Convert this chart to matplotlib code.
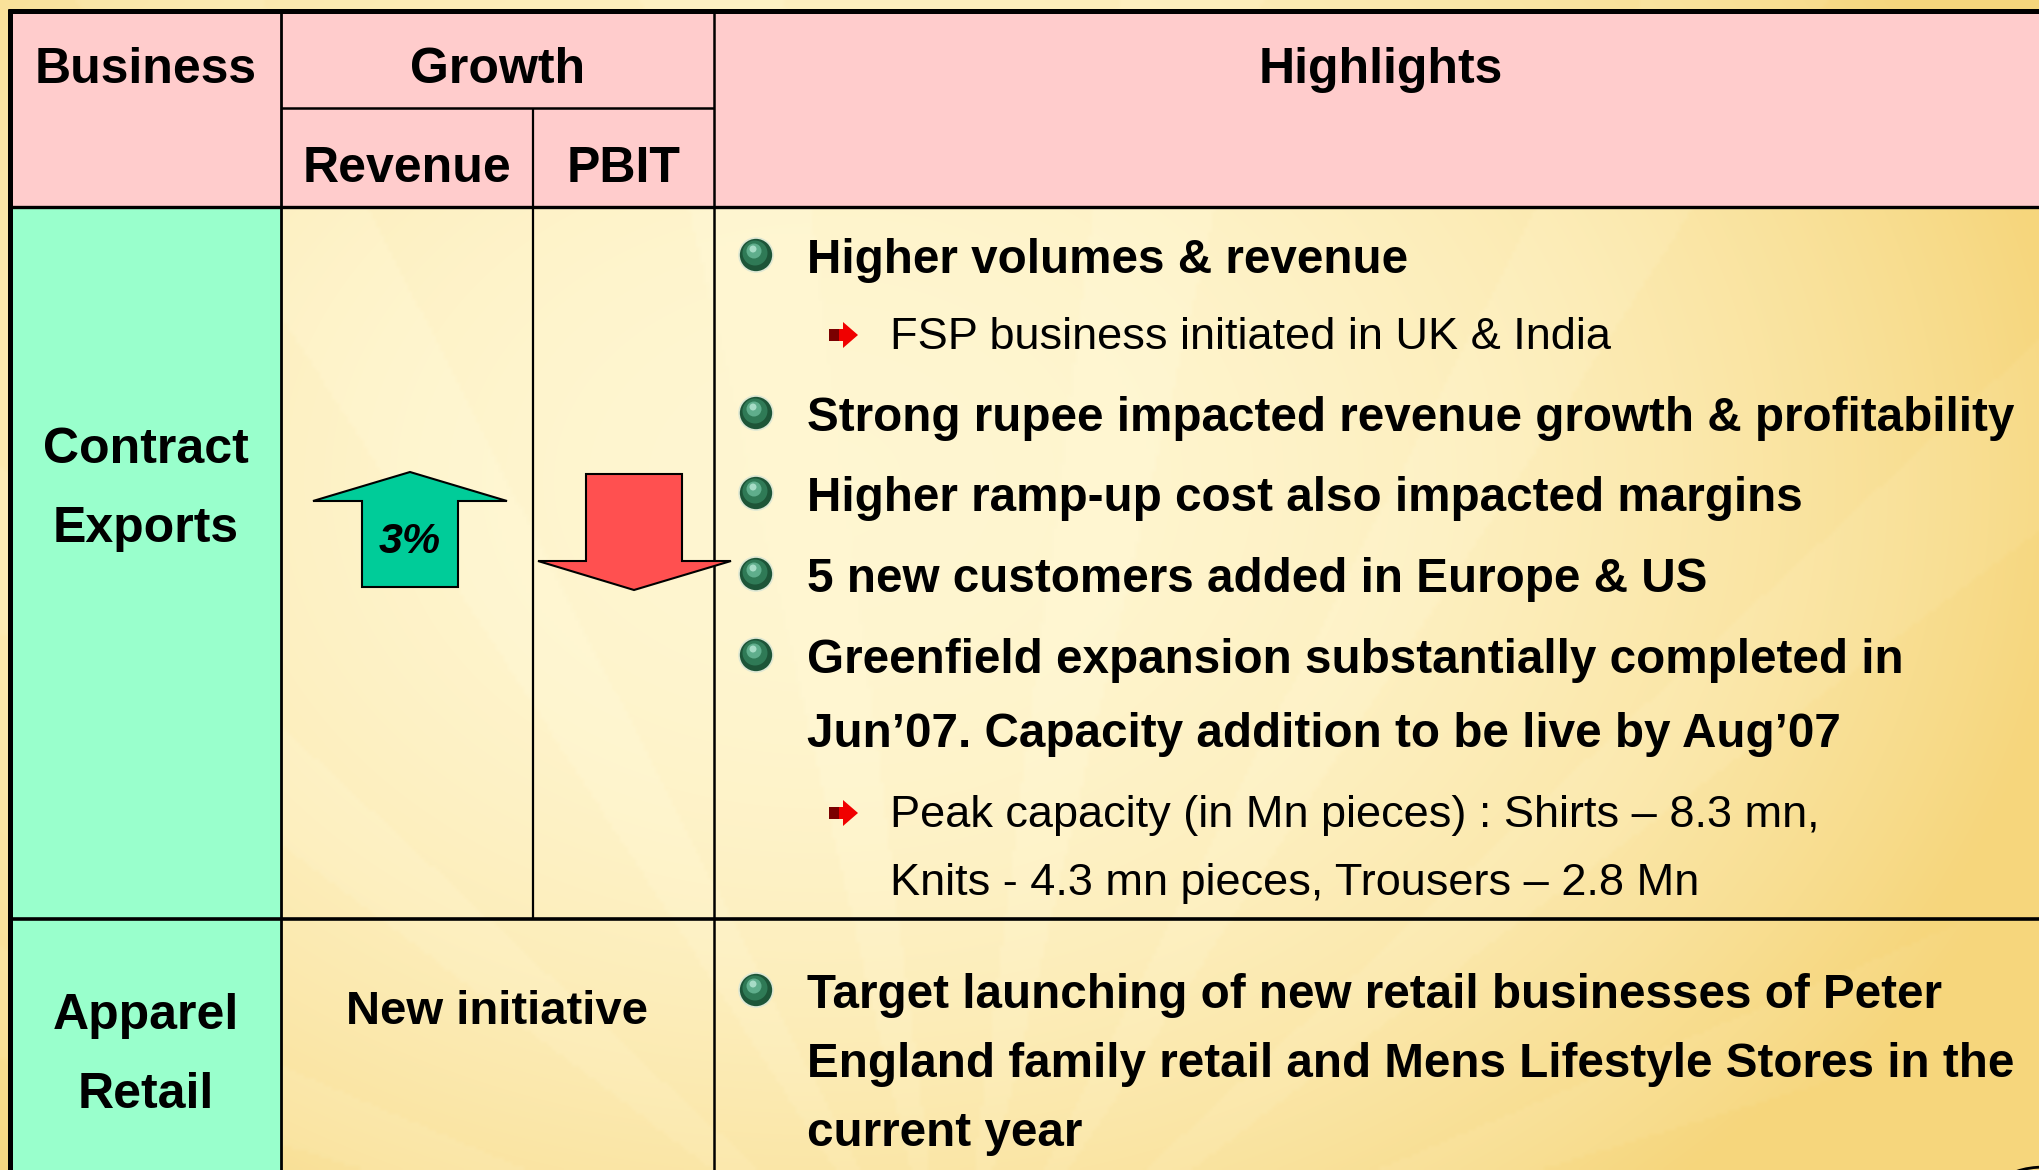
import numpy as np
import matplotlib
matplotlib.use("Agg")
import matplotlib.pyplot as plt
from matplotlib.patches import Rectangle, Polygon, Circle, Ellipse

plt.rcParams["font.family"] = ["Liberation Sans", "DejaVu Sans"]

# --------------------------------------------------
# DATA
# --------------------------------------------------
headers = ["Business", "Growth", "Highlights"]
sub_headers = ["Revenue", "PBIT"]
businesses = [["Contract", "Exports"], ["Apparel", "Retail"]]

revenue_growth = ["3%"]          # Contract Exports revenue, up
revenue_dir = ["up"]
pbit_dir = ["down"]              # Contract Exports PBIT, no figure shown
retail_growth = "New initiative"

contract_points = [
    (0, ["Higher volumes & revenue"]),
    (1, ["FSP business initiated in UK & India"]),
    (0, ["Strong rupee impacted revenue growth & profitability"]),
    (0, ["Higher ramp-up cost also impacted margins"]),
    (0, ["5 new customers added in Europe & US"]),
    (0, ["Greenfield expansion substantially completed in",
         "Jun\u201907. Capacity addition to be live by Aug\u201907"]),
    (1, ["Peak capacity (in Mn pieces) : Shirts \u2013 8.3 mn,",
         "Knits - 4.3 mn pieces, Trousers \u2013 2.8 Mn"]),
]
retail_points = [
    (0, ["Target launching of new retail businesses of Peter",
         "England family retail and Mens Lifestyle Stores in the",
         "current year"]),
]

# layout (pixel coordinates, y down)
W, H = 2040, 1170
X0, X_BUS, X_REV, X_HL, X1 = 10, 281, 533, 714, 2048
Y0, Y_SUB, Y_HDR, Y_ROW = 10.5, 108, 206.5, 918.5
contract_baselines = [[273], [349], [431], [511], [592], [673, 747], [827, 895]]
retail_baselines = [[1008, 1077, 1146]]

PINK = "#FFCCCC"
MINT = "#99FFCC"

fig = plt.figure(figsize=(W / 100, H / 100), dpi=100)
ax = fig.add_axes([0, 0, 1, 1])
ax.set_xlim(0, W)
ax.set_ylim(H, 0)
ax.axis("off")

# --------------------------------------------------
# BACKGROUND
# --------------------------------------------------
yy, xx = np.mgrid[0:H:4, 0:W:4].astype(float)
w = ((xx - 820) / 1250) ** 2 + ((yy - 480) / 950) ** 2
ang = np.arctan2(yy - 1350, xx - 950)
w = w - 0.07 * (np.cos(ang * 18) > 0.6)
w = np.clip(w, 0, 1) ** 1.1
light = np.array([1.0, 0.965, 0.82])
dark = np.array([0.965, 0.84, 0.49])
bg = light[None, None, :] * (1 - w[..., None]) + dark[None, None, :] * w[..., None]
ax.imshow(bg, extent=[0, W, H, 0], aspect="auto", zorder=0, interpolation="bilinear")

# --------------------------------------------------
# TABLE FILLS & LINES
# --------------------------------------------------
ax.add_patch(Rectangle((X0, Y0), X1 - X0, Y_HDR - Y0, facecolor=PINK,
                       edgecolor="none", zorder=1))
ax.add_patch(Rectangle((X0, Y_HDR), X_BUS - X0, H - Y_HDR + 20, facecolor=MINT,
                       edgecolor="none", zorder=1))

lk = dict(color="black", zorder=3, solid_capstyle="butt")
ax.plot([X0 - 2, X1], [Y0, Y0], lw=3.6, **lk)
ax.plot([X0, X0], [Y0 - 2, H + 5], lw=3.6, **lk)
ax.plot([X0, X1], [Y_HDR, Y_HDR], lw=2.4, **lk)
ax.plot([X0, X1], [Y_ROW, Y_ROW], lw=2.6, **lk)
ax.plot([X_BUS, X_HL], [Y_SUB, Y_SUB], lw=1.8, **lk)
ax.plot([X_BUS, X_BUS], [Y0, H + 5], lw=2.0, **lk)
ax.plot([X_HL, X_HL], [Y0, H + 5], lw=1.8, **lk)
ax.plot([X_REV, X_REV], [Y_SUB, Y_ROW], lw=1.6, **lk)

# --------------------------------------------------
# HEADERS
# --------------------------------------------------
hk = dict(fontsize=36, fontweight="bold", ha="center", va="baseline", zorder=4)
ax.text((X0 + X_BUS) / 2, 83, headers[0], **hk)
ax.text((X_BUS + X_HL) / 2, 83, headers[1], **hk)
ax.text((X_HL + X1) / 2, 83, headers[2], **hk)
ax.text((X_BUS + X_REV) / 2, 182, sub_headers[0], **hk)
ax.text((X_REV + X_HL) / 2, 182, sub_headers[1], **hk)

ax.text((X0 + X_BUS) / 2, 463, businesses[0][0], **hk)
ax.text((X0 + X_BUS) / 2, 542, businesses[0][1], **hk)
ax.text((X0 + X_BUS) / 2, 1029, businesses[1][0], **hk)
ax.text((X0 + X_BUS) / 2, 1108, businesses[1][1], **hk)

ax.text((X_BUS + X_HL) / 2, 1024, retail_growth, fontsize=34, fontweight="bold",
        ha="center", va="baseline", zorder=4)

# --------------------------------------------------
# GROWTH ARROWS
# --------------------------------------------------
up = [(410, 472), (507, 501), (458, 501), (458, 587), (362, 587), (362, 501), (313, 501)]
down = [(586, 474), (682, 474), (682, 561), (731, 561), (634, 590), (538, 561), (586, 561)]
if revenue_dir[0] == "up":
    ax.add_patch(Polygon(up, closed=True, facecolor="#00CC99", edgecolor="black",
                         lw=1.5, zorder=5, joinstyle="miter"))
    ax.text(410, 542, revenue_growth[0], fontsize=31, fontweight="bold",
            fontstyle="italic", ha="center", va="center", zorder=6)
if pbit_dir[0] == "down":
    ax.add_patch(Polygon(down, closed=True, facecolor="#FF5050", edgecolor="black",
                         lw=1.5, zorder=5, joinstyle="miter"))


# --------------------------------------------------
# BULLETS
# --------------------------------------------------
def sphere_bullet(x, y):
    ax.add_patch(Circle((x, y), 17, facecolor="#1D5538", edgecolor="#dfe8d4",
                        lw=1.2, zorder=5))
    ax.add_patch(Circle((x - 1, y - 2), 12.5, facecolor="#2F7A56", edgecolor="none", zorder=5))
    ax.add_patch(Circle((x - 2, y - 4), 7.5, facecolor="#5FAE8C", edgecolor="none", zorder=5))
    ax.add_patch(Circle((x - 3, y - 6), 3.5, facecolor="#A6DCC6", edgecolor="none", zorder=5))


def arrow_bullet(x, y):
    pts = [(x - 14, y - 6), (x, y - 6), (x, y - 13), (x + 15, y), (x, y + 13),
           (x, y + 6), (x - 14, y + 6)]
    ax.add_patch(Polygon(pts, closed=True, facecolor="#F00000", edgecolor="none", zorder=5))
    ax.add_patch(Rectangle((x - 14, y - 6), 10, 12, facecolor="#7A0000",
                           edgecolor="none", zorder=5))


def draw_points(points, baselines):
    for (level, lines), bls in zip(points, baselines):
        if level == 0:
            sphere_bullet(756, bls[0] - 18)
            tx, fs, fw = 807, 34.3, "bold"
        else:
            arrow_bullet(843, bls[0] - 14)
            tx, fs, fw = 890, 32.5, "normal"
        for line, bl in zip(lines, bls):
            ax.text(tx, bl, line, fontsize=fs, fontweight=fw, ha="left",
                    va="baseline", zorder=4)


draw_points(contract_points, contract_baselines)
draw_points(retail_points, retail_baselines)

# partial logo in the corner
ax.add_patch(Ellipse((2045, 1182), 80, 30, facecolor="none", edgecolor="black",
                     lw=2, zorder=4))

fig.savefig("out.png", dpi=100)
